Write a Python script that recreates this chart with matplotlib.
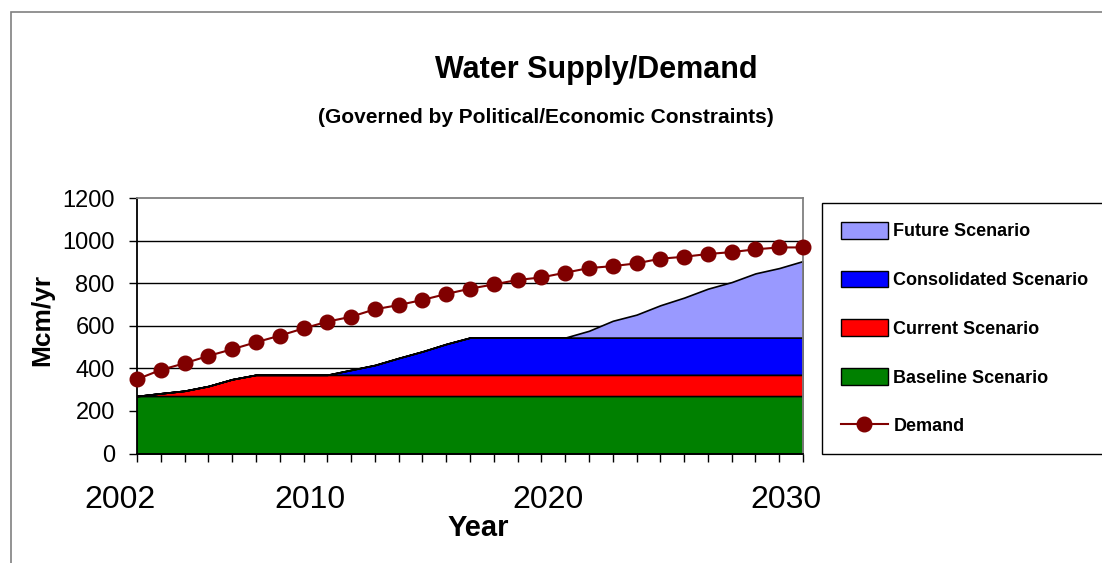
import matplotlib
matplotlib.use('Agg')
import matplotlib.pyplot as plt
from matplotlib.patches import Patch, Rectangle
from matplotlib.lines import Line2D

plt.rcParams['font.family'] = ['Liberation Sans', 'DejaVu Sans']

# ---------------- data ----------------
years = [2002, 2003, 2004, 2005, 2006, 2007, 2008, 2009, 2010, 2011,
         2012, 2013, 2014, 2015, 2016, 2017, 2018, 2019, 2020, 2021,
         2022, 2023, 2024, 2025, 2026, 2027, 2028, 2029, 2030]

# cumulative tops of each stacked band (Mcm/yr)
baseline_top = [270, 270, 270, 270, 270, 270, 270, 270, 270, 270,
                270, 270, 270, 270, 270, 270, 270, 270, 270, 270,
                270, 270, 270, 270, 270, 270, 270, 270, 270]
current_top = [270, 283, 295, 317, 349, 370, 370, 370, 370, 370,
               370, 370, 370, 370, 370, 370, 370, 370, 370, 370,
               370, 370, 370, 370, 370, 370, 370, 370, 370]
consolidated_top = [270, 283, 295, 317, 349, 370, 370, 370, 370, 393,
                    416, 449, 480, 515, 545, 545, 545, 545, 545, 545,
                    545, 545, 545, 545, 545, 545, 545, 545, 545]
future_top = [270, 283, 295, 317, 349, 370, 370, 370, 370, 393,
              416, 449, 480, 515, 545, 545, 545, 545, 545, 577,
              624, 653, 697, 733, 775, 806, 847, 872, 905]
demand = [349, 393, 424, 459, 490, 523, 554, 588, 620, 643,
          678, 698, 722, 750, 775, 795, 816, 828, 850, 872,
          881, 894, 916, 925, 938, 947, 960, 969, 969]

label_years = [2002, 2010, 2020, 2030]
y_ticks = [0, 200, 400, 600, 800, 1000, 1200]

series_names = ['Future Scenario', 'Consolidated Scenario', 'Current Scenario',
                'Baseline Scenario', 'Demand']

# ---------------- figure ----------------
W, H = 1102, 563
fig = plt.figure(figsize=(W / 100, H / 100), dpi=100)
ax = fig.add_axes([137 / W, 1 - 453.5 / H, 666 / W, 255.2 / H])

c_base, c_cur, c_cons, c_fut = '#008000', '#FF0000', '#0000FF', '#9999FF'
c_dem = '#800000'

ax.fill_between(years, 0, baseline_top, facecolor=c_base, edgecolor='black', lw=1.2, zorder=2)
ax.fill_between(years, baseline_top, current_top, facecolor=c_cur, edgecolor='black', lw=1.2, zorder=2)
ax.fill_between(years, current_top, consolidated_top, facecolor=c_cons, edgecolor='black', lw=1.2, zorder=2)
ax.fill_between(years, consolidated_top, future_top, facecolor=c_fut, edgecolor='black', lw=1.2, zorder=2)
ax.plot(years, demand, color=c_dem, lw=1.5, marker='o', ms=10.5,
        markerfacecolor=c_dem, markeredgecolor=c_dem, clip_on=False, zorder=5)

# gridlines
ax.set_axisbelow(True)
ax.set_yticks(y_ticks)
ax.yaxis.grid(True, color='black', lw=1)

# spines
for s in ['left', 'bottom']:
    ax.spines[s].set_color('black')
    ax.spines[s].set_linewidth(1.3)
for s in ['top', 'right']:
    ax.spines[s].set_color('#808080')
    ax.spines[s].set_linewidth(1.3)

# ticks
ax.tick_params(axis='y', which='major', length=6, width=1, direction='out',
               labelsize=17, pad=10, colors='black')
ax.set_xticks(years)
ax.set_xticklabels([])
ax.tick_params(axis='x', which='major', length=6, width=1, direction='out', color='black')

# year labels (drawn slightly left of their tick, as in the original)
xt = ax.get_xaxis_transform()
for y in label_years:
    ax.text(y - 0.72, -0.182, str(y), transform=xt, ha='center', va='center',
            fontsize=23, clip_on=False)

ax.set_xlim(years[0], years[-1])
ax.set_ylim(y_ticks[0], y_ticks[-1])

gl = ax.get_ygridlines()
gl[0].set_visible(False)
gl[-1].set_visible(False)

# axis labels
ax.set_ylabel('Mcm/yr', fontsize=19, fontweight='bold', va='center')
ax.yaxis.set_label_coords(-0.142, 0.523)
ax.set_xlabel('Year', fontsize=21, fontweight='bold', va='center')
ax.xaxis.set_label_coords(0.512, -0.292)

# titles
fig.text(596 / W, 1 - 70 / H, 'Water Supply/Demand', ha='center', va='center',
         fontsize=22, fontweight='bold')
fig.text(546 / W, 1 - 117 / H, '(Governed by Political/Economic Constraints)',
         ha='center', va='center', fontsize=15, fontweight='bold')

# legend
handles = [Patch(facecolor=c_fut, edgecolor='black', lw=1),
           Patch(facecolor=c_cons, edgecolor='black', lw=1),
           Patch(facecolor=c_cur, edgecolor='black', lw=1),
           Patch(facecolor=c_base, edgecolor='black', lw=1),
           Line2D([0], [0], color=c_dem, lw=1.5, marker='o', ms=10.5)]
leg = fig.legend(handles, series_names, loc='upper left',
                 bbox_to_anchor=(822 / W, 1 - 203 / H), borderaxespad=0,
                 prop={'size': 13, 'weight': 'bold'}, handlelength=2.6,
                 handleheight=1.05, handletextpad=0.3, labelspacing=1.67,
                 borderpad=1.05, fancybox=False, framealpha=1)
leg.get_frame().set_edgecolor('black')
leg.get_frame().set_linewidth(1)

# outer chart border
fig.patches.append(Rectangle((11 / W, -0.05), 1.2, (H - 12) / H + 0.05,
                             transform=fig.transFigure, fill=False,
                             edgecolor='#808080', lw=1.2, clip_on=False))

fig.savefig('out.png', dpi=100)
